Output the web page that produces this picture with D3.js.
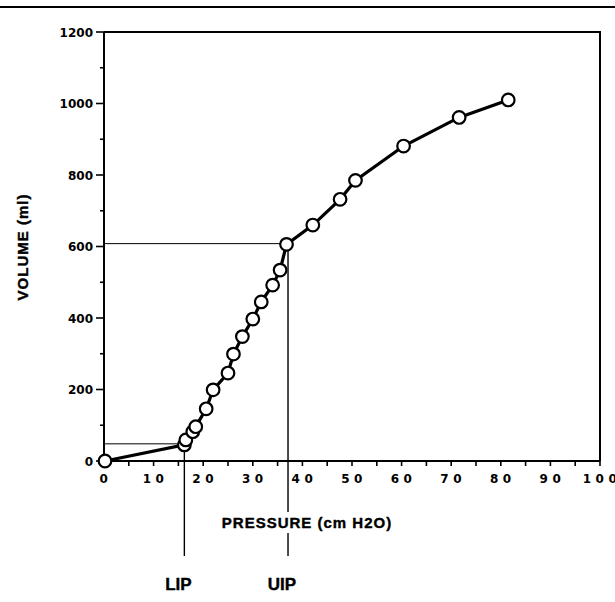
<!DOCTYPE html>
<html lang="en">
<head>
<meta charset="utf-8">
<title>Pressure-volume curve</title>
<script src="https://cdn.jsdelivr.net/npm/d3@7"></script>
<style>
  body { margin: 0; background: #fff; }
  text { font-family: "Liberation Sans", Arial, sans-serif; font-weight: bold; fill: #000; }
  .tick { font-family: "DejaVu Sans", sans-serif; font-size: 12px; }
  .title { stroke: #000; stroke-width: 0.4px; }
</style>
</head>
<body>
<div id="chart"></div>
<script>
// measured points (pressure cm H2O, volume ml)
var pressure = [0.2, 16.2, 16.5, 17.9, 18.5, 20.6, 22.0, 25.0, 26.1, 27.9, 30.0, 31.7, 34.0, 35.5, 36.8, 42.1, 47.6, 50.7, 60.4, 71.6, 81.5];
var volume   = [0, 45, 59, 82, 96, 146, 199, 246, 299, 348, 397, 445, 492, 534, 606, 660, 732, 785, 881, 961, 1010];

// inflection points
var inflectionNames = ["LIP", "UIP"];
var inflectionP = [16.2, 37.1];
var inflectionV = [48, 608];

var xTicks = d3.range(0, 101, 10);
var xMinor = d3.range(5, 100, 10);
var yTicks = d3.range(0, 1201, 200);
var yMinor = d3.range(100, 1200, 200);

var w = 615, h = 602;
var svg = d3.select('#chart').append('svg')
    .attr('width', w)
    .attr('height', h);

var x = d3.scaleLinear().domain([0, 100]).range([104, 600]);
var y = d3.scaleLinear().domain([0, 1200]).range([461, 32]);

// rule across top of page
svg.append('line')
    .attr('x1', 0).attr('x2', w)
    .attr('y1', 7).attr('y2', 7)
    .attr('stroke', '#000').attr('stroke-width', 2.2);

// frame top + right
svg.append('path')
    .attr('d', 'M' + x(0) + ',' + y(1200) + 'H' + x(100) + 'V' + y(0))
    .attr('fill', 'none').attr('stroke', '#000').attr('stroke-width', 2);

// y axis
var yAxis = svg.append('g').attr('transform', 'translate(' + x(0) + ',0)');
yAxis.append('line').attr('y1', y(0)).attr('y2', y(1200))
    .attr('stroke', '#000').attr('stroke-width', 2);
yAxis.selectAll('.maj').data(yTicks).enter().append('line')
    .attr('x1', -8).attr('x2', 0)
    .attr('y1', function (d) { return y(d); }).attr('y2', function (d) { return y(d); })
    .attr('stroke', '#000').attr('stroke-width', 1.6);
yAxis.selectAll('.min').data(yMinor).enter().append('line')
    .attr('x1', -4).attr('x2', 0)
    .attr('y1', function (d) { return y(d); }).attr('y2', function (d) { return y(d); })
    .attr('stroke', '#000').attr('stroke-width', 1.6);
yAxis.selectAll('text').data(yTicks).enter().append('text')
    .attr('class', 'tick')
    .attr('x', -11)
    .attr('y', function (d) { return y(d) + 4.5; })
    .attr('text-anchor', 'end')
    .text(function (d) { return d; });

// x axis
var xAxis = svg.append('g').attr('transform', 'translate(0,' + y(0) + ')');
xAxis.append('line').attr('x1', x(0)).attr('x2', x(100))
    .attr('stroke', '#000').attr('stroke-width', 2);
xAxis.selectAll('.maj').data(xTicks).enter().append('line')
    .attr('x1', function (d) { return x(d); }).attr('x2', function (d) { return x(d); })
    .attr('y1', 0).attr('y2', 5)
    .attr('stroke', '#000').attr('stroke-width', 1.6);
xAxis.selectAll('.min').data(xMinor).enter().append('line')
    .attr('x1', function (d) { return x(d); }).attr('x2', function (d) { return x(d); })
    .attr('y1', 0).attr('y2', 5)
    .attr('stroke', '#000').attr('stroke-width', 1.6);
xAxis.selectAll('text').data(xTicks).enter().append('text')
    .attr('class', 'tick')
    .attr('x', function (d) { return x(d) + 2; })
    .attr('y', 22)
    .attr('text-anchor', 'middle')
    .style('letter-spacing', '4.5px')
    .text(function (d) { return d; });

// inflection guide lines
inflectionP.forEach(function (p, i) {
    svg.append('line')
        .attr('x1', x(0)).attr('x2', x(p))
        .attr('y1', y(inflectionV[i])).attr('y2', y(inflectionV[i]))
        .attr('stroke', '#000').attr('stroke-width', 1);
    svg.append('line')
        .attr('x1', x(p)).attr('x2', x(p))
        .attr('y1', y(inflectionV[i])).attr('y2', 556)
        .attr('stroke', '#000').attr('stroke-width', 1.4);
    svg.append('text')
        .attr('class', 'title')
        .attr('x', x(p) - 6)
        .attr('y', 590)
        .attr('text-anchor', 'middle')
        .style('font-size', '17px')
        .text(inflectionNames[i]);
});

// x axis title (white backing cuts the UIP line)
var xt = svg.append('text')
    .attr('class', 'title')
    .attr('x', 307)
    .attr('y', 528)
    .attr('text-anchor', 'middle')
    .style('font-size', '15px')
    .style('letter-spacing', '1px')
    .text('PRESSURE (cm H2O)');
var bb = xt.node().getBBox();
svg.insert('rect', function () { return xt.node(); })
    .attr('x', bb.x - 2).attr('y', bb.y - 2)
    .attr('width', bb.width + 4).attr('height', bb.height + 4)
    .attr('fill', '#fff');

// y axis title
svg.append('text')
    .attr('class', 'title')
    .attr('transform', 'translate(28,247) rotate(-90)')
    .attr('text-anchor', 'middle')
    .style('font-size', '15px')
    .style('letter-spacing', '1px')
    .text('VOLUME (ml)');

// curve
var pts = pressure.map(function (p, i) { return [p, volume[i]]; });
var line = d3.line()
    .x(function (d) { return x(d[0]); })
    .y(function (d) { return y(d[1]); });
svg.append('path')
    .datum(pts)
    .attr('d', line)
    .attr('fill', 'none')
    .attr('stroke', '#000')
    .attr('stroke-width', 3.2);

svg.selectAll('circle.pt').data(pts).enter().append('circle')
    .attr('class', 'pt')
    .attr('cx', function (d) { return x(d[0]); })
    .attr('cy', function (d) { return y(d[1]); })
    .attr('r', 6.3)
    .attr('fill', '#fff')
    .attr('stroke', '#000')
    .attr('stroke-width', 2.2);
</script>
</body>
</html>
